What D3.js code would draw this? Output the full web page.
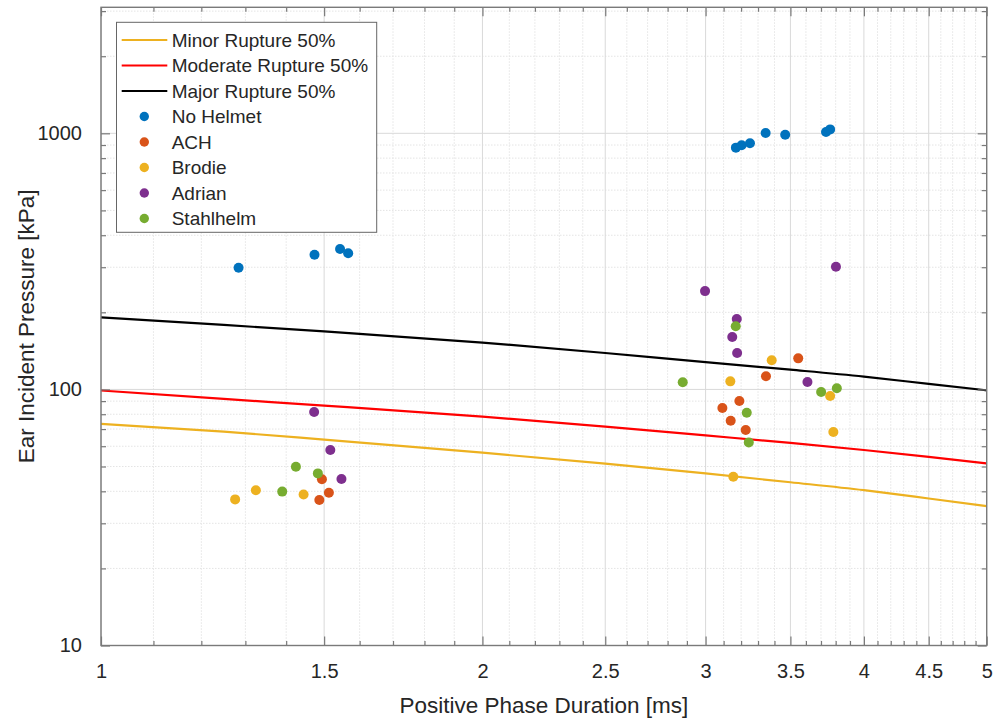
<!DOCTYPE html>
<html>
<head>
<meta charset="utf-8">
<script src="https://cdn.jsdelivr.net/npm/d3@7"></script>
<style>
  html, body { margin: 0; padding: 0; background: #fff; }
  svg text { font-family: "Liberation Sans", Arial, Helvetica, sans-serif; fill: #262626; }
</style>
</head>
<body>
<svg id="chart" width="1008" height="719"></svg>
<script>
// ---------- Data ----------
const durations = [1, 1.25, 1.5, 2, 2.5, 3, 3.5, 4, 4.5, 5];
const minorRupture    = [73.3, 68.4, 63.7, 56.6, 51.3, 47.0, 43.4, 40.4, 37.5, 35.0];
const moderateRupture = [99.0, 91.8, 86.5, 78.3, 71.5, 66.1, 61.8, 58.0, 54.5, 51.4];
const majorRupture    = [191.2, 178.6, 168.5, 152.4, 138.7, 127.7, 119.4, 112.2, 105.1, 99.2];

const noHelmetX = [1.284, 1.474, 1.544, 1.567, 3.170, 3.203, 3.252, 3.346, 3.467, 3.734, 3.762];
const noHelmetY = [298.6, 335.7, 353.5, 340.0, 879, 898, 914, 1003, 987, 1012, 1036];
const achX = [1.494, 1.513, 1.487, 3.550, 3.348, 3.190, 3.093, 3.140, 3.227];
const achY = [44.6, 39.5, 37.0, 132.2, 112.5, 90.1, 84.6, 75.5, 69.4];
const brodieX = [1.276, 1.325, 1.445, 3.383, 3.138, 3.762, 3.784, 3.155];
const brodieY = [37.2, 40.4, 38.9, 129.9, 107.5, 94.2, 68.2, 45.6];
const adrianX = [1.473, 1.517, 1.548, 2.997, 3.802, 3.175, 3.149, 3.177, 3.610];
const adrianY = [81.6, 58.0, 44.7, 242.0, 301.3, 188.3, 160.2, 138.8, 106.9];
const stahlhelmX = [1.425, 1.483, 1.390, 3.169, 2.878, 3.701, 3.808, 3.233, 3.245];
const stahlhelmY = [49.9, 47.0, 39.9, 176.4, 106.6, 97.7, 101.0, 81.1, 62.1];

const xTickValues = [1, 1.5, 2, 2.5, 3, 3.5, 4, 4.5, 5];
const xTickLabels = ["1", "1.5", "2", "2.5", "3", "3.5", "4", "4.5", "5"];
const yTickValues = [10, 100, 1000];
const yTickLabels = ["10", "100", "1000"];

const lineNames = ["Minor Rupture 50%", "Moderate Rupture 50%", "Major Rupture 50%"];
const lineColors = ["#EDB120", "#FF0000", "#000000"];
const seriesNames = ["No Helmet", "ACH", "Brodie", "Adrian", "Stahlhelm"];
const seriesColors = ["#0072BD", "#D95319", "#EDB120", "#7E2F8E", "#77AC30"];

const xLabel = "Positive Phase Duration [ms]";
const yLabel = "Ear Incident Pressure [kPa]";

// ---------- Layout ----------
const L = 101, R = 986.7, T = 7.3, B = 645.5;
const svg = d3.select("#chart");

const x = d3.scaleLog().domain([1, 5]).range([L, R]);
const y = d3.scaleLog().domain([10, 3105]).range([B, T]);

// minor tick values
const xMinor = d3.range(11, 50).map(v => v / 10).filter(v => !xTickValues.some(t => Math.abs(t - v) < 1e-9));
const yMinor = [];
[10, 100, 1000].forEach(d => { for (let k = 2; k <= 9; k++) { const v = d * k; if (v <= 3105) yMinor.push(v); } });

// ---------- Grid ----------
const grid = svg.append("g");
grid.selectAll(".xmin").data(xMinor).enter().append("line")
  .attr("x1", d => x(d)).attr("x2", d => x(d)).attr("y1", T).attr("y2", B)
  .attr("stroke", "#e4e4e4").attr("stroke-width", 1).attr("stroke-dasharray", "1.5,1.5");
grid.selectAll(".ymin").data(yMinor).enter().append("line")
  .attr("x1", L).attr("x2", R).attr("y1", d => y(d)).attr("y2", d => y(d))
  .attr("stroke", "#e4e4e4").attr("stroke-width", 1).attr("stroke-dasharray", "1.5,1.5");
grid.selectAll(".xmaj").data(xTickValues).enter().append("line")
  .attr("x1", d => x(d)).attr("x2", d => x(d)).attr("y1", T).attr("y2", B)
  .attr("stroke", "#d9d9d9").attr("stroke-width", 1);
grid.selectAll(".ymaj").data(yTickValues).enter().append("line")
  .attr("x1", L).attr("x2", R).attr("y1", d => y(d)).attr("y2", d => y(d))
  .attr("stroke", "#d9d9d9").attr("stroke-width", 1);

// ---------- Lines ----------
const lineGen = d3.line().x(d => x(d[0])).y(d => y(d[1])).curve(d3.curveMonotoneX);
[minorRupture, moderateRupture, majorRupture].forEach((arr, i) => {
  svg.append("path")
    .datum(durations.map((d, j) => [d, arr[j]]))
    .attr("d", lineGen)
    .attr("fill", "none")
    .attr("stroke", lineColors[i])
    .attr("stroke-width", 2.2);
});

// ---------- Scatter ----------
const seriesX = [noHelmetX, achX, brodieX, adrianX, stahlhelmX];
const seriesY = [noHelmetY, achY, brodieY, adrianY, stahlhelmY];
seriesX.forEach((xs, i) => {
  svg.append("g").selectAll("circle")
    .data(xs.map((v, j) => [v, seriesY[i][j]]))
    .enter().append("circle")
    .attr("cx", d => x(d[0])).attr("cy", d => y(d[1]))
    .attr("r", 5)
    .attr("fill", seriesColors[i]);
});

// ---------- Axes ----------
const axisColor = "#7a7a7a";
const fmtX = v => xTickLabels[xTickValues.indexOf(v)];
const fmtY = v => yTickLabels[yTickValues.indexOf(v)];

function styleAxis(g) {
  g.select(".domain").remove();
  g.selectAll(".tick line").attr("stroke", axisColor).attr("stroke-width", 1.2);
}

svg.append("g").attr("transform", `translate(0,${B})`)
  .call(d3.axisBottom(x).tickValues(xTickValues).tickFormat(fmtX).tickSizeInner(-9).tickSizeOuter(0).tickPadding(18))
  .call(styleAxis)
  .call(g => g.selectAll("text").attr("font-size", 20).attr("fill", "#262626"));
svg.append("g").attr("transform", `translate(0,${B})`)
  .call(d3.axisBottom(x).tickValues(xMinor).tickFormat("").tickSizeInner(-4.5).tickSizeOuter(0))
  .call(styleAxis);
svg.append("g").attr("transform", `translate(0,${T})`)
  .call(d3.axisTop(x).tickValues(xTickValues).tickFormat("").tickSizeInner(-9).tickSizeOuter(0))
  .call(styleAxis);
svg.append("g").attr("transform", `translate(0,${T})`)
  .call(d3.axisTop(x).tickValues(xMinor).tickFormat("").tickSizeInner(-4.5).tickSizeOuter(0))
  .call(styleAxis);
svg.append("g").attr("transform", `translate(${L},0)`)
  .call(d3.axisLeft(y).tickValues(yTickValues).tickFormat(fmtY).tickSizeInner(-9).tickSizeOuter(0).tickPadding(19))
  .call(styleAxis)
  .call(g => g.selectAll("text").attr("font-size", 20).attr("fill", "#262626"));
svg.append("g").attr("transform", `translate(${L},0)`)
  .call(d3.axisLeft(y).tickValues(yMinor).tickFormat("").tickSizeInner(-5).tickSizeOuter(0))
  .call(styleAxis);
svg.append("g").attr("transform", `translate(${R},0)`)
  .call(d3.axisRight(y).tickValues(yTickValues).tickFormat("").tickSizeInner(-9).tickSizeOuter(0))
  .call(styleAxis);
svg.append("g").attr("transform", `translate(${R},0)`)
  .call(d3.axisRight(y).tickValues(yMinor).tickFormat("").tickSizeInner(-5).tickSizeOuter(0))
  .call(styleAxis);

svg.append("rect").attr("x", L).attr("y", T).attr("width", R - L).attr("height", B - T)
  .attr("fill", "none").attr("stroke", axisColor).attr("stroke-width", 1.4);

svg.append("text").attr("x", (L + R) / 2).attr("y", 713)
  .attr("text-anchor", "middle").attr("font-size", 22.5).text(xLabel);
svg.append("text").attr("transform", `translate(33.5,${(T + B) / 2}) rotate(-90)`)
  .attr("text-anchor", "middle").attr("font-size", 22.5).text(yLabel);

// ---------- Legend ----------
const lg = svg.append("g");
lg.append("rect").attr("x", 116.5).attr("y", 22.3).attr("width", 260.2).attr("height", 210)
  .attr("fill", "#fff").attr("stroke", "#666").attr("stroke-width", 1);
const rowY0 = 40, rowDy = 25.5;
lineNames.forEach((name, i) => {
  const cy = rowY0 + i * rowDy;
  lg.append("line").attr("x1", 121.7).attr("x2", 167.3).attr("y1", cy).attr("y2", cy)
    .attr("stroke", lineColors[i]).attr("stroke-width", 2.2);
  lg.append("text").attr("x", 171.7).attr("y", cy).attr("dy", "0.35em")
    .attr("font-size", 19).text(name);
});
seriesNames.forEach((name, i) => {
  const cy = rowY0 + (i + 3) * rowDy;
  lg.append("circle").attr("cx", 144.3).attr("cy", cy).attr("r", 4.7).attr("fill", seriesColors[i]);
  lg.append("text").attr("x", 171.7).attr("y", cy).attr("dy", "0.35em")
    .attr("font-size", 19).text(name);
});
</script>
</body>
</html>
